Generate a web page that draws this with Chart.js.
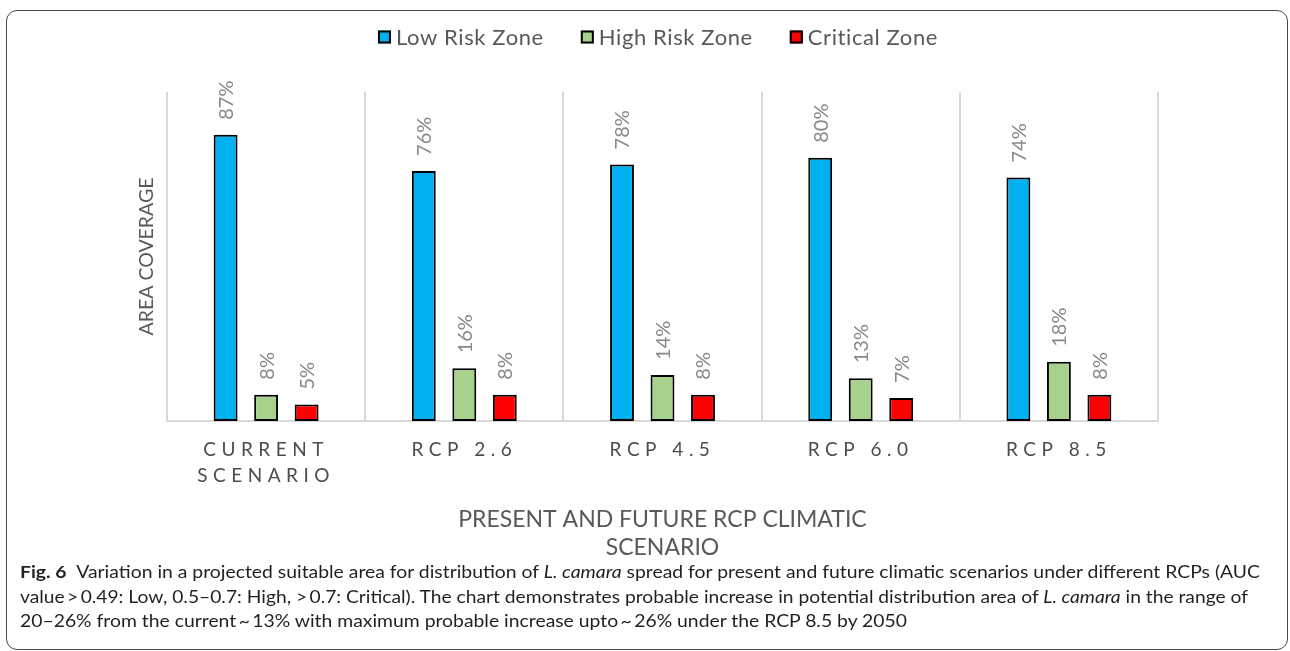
<!DOCTYPE html>
<html>
<head>
<meta charset="utf-8">
<script src="https://cdn.jsdelivr.net/npm/chart.js@4.4.1/dist/chart.umd.min.js"></script>
<style>
  html, body { margin: 0; padding: 0; background: #fff; }
  body { width: 1290px; height: 651px; position: relative; overflow: hidden; }
  #frame {
    position: absolute; left: 6px; top: 10px; width: 1282px; height: 640px;
    border: 1.5px solid #4a4a4a; border-radius: 11px; box-sizing: border-box;
  }
  #wrap { position: absolute; left: 0; top: 0; width: 1290px; height: 562px; }
  #caption {
    position: absolute; left: 20px; top: 560px;
    font-family: Lato, "Noto Sans", sans-serif; font-size: 17px; color: #231f20;
  }
  .cl { white-space: nowrap; height: 24.5px; line-height: 24.5px; transform-origin: left center; width: max-content; }
</style>
</head>
<body>
<div id="frame"></div>
<div id="wrap"><canvas id="chart" width="1290" height="562"></canvas></div>
<div id="caption">
  <div class="cl" data-w="1240"><b>Fig. 6</b>&ensp;Variation in a projected suitable area for distribution of <i>L. camara</i> spread for present and future climatic scenarios under different RCPs (AUC</div>
  <div class="cl" data-w="1228">value&#8201;&gt;&#8201;0.49: Low, 0.5–0.7: High, &gt;&#8201;0.7: Critical). The chart demonstrates probable increase in potential distribution area of <i>L. camara</i> in the range of</div>
  <div class="cl" data-w="887">20–26% from the current&#8201;~&#8201;13% with maximum probable increase upto&#8201;~&#8201;26% under the RCP 8.5 by 2050</div>
</div>
<script>
// Scenario categories (multi-line labels) and the three risk-zone series (% of area)
const scenarioLabels = [['CURRENT', 'SCENARIO'], ['RCP 2.6'], ['RCP 4.5'], ['RCP 6.0'], ['RCP 8.5']];
const seriesNames = ['Low Risk Zone', 'High Risk Zone', 'Critical Zone'];
const lowRiskZone = [87, 76, 78, 80, 74];
const highRiskZone = [8, 16, 14, 13, 18];
const criticalZone = [5, 8, 8, 7, 8];
const yAxisTitle = 'AREA COVERAGE';
const xAxisTitle = ['PRESENT AND FUTURE RCP CLIMATIC', 'SCENARIO'];

const FONT = 'Lato, "Noto Sans", sans-serif';
const TEXT_GREY = '#595959';

// Stretch each caption line to its column width
document.querySelectorAll('.cl').forEach(el => {
  const target = +el.dataset.w;
  const actual = el.getBoundingClientRect().width;
  el.style.transform = 'scaleX(' + (target / actual) + ')';
});

// Rotated percentage labels above every bar
const valueLabels = {
  id: 'valueLabels',
  afterDatasetsDraw(chart) {
    const ctx = chart.ctx;
    ctx.save();
    ctx.font = '20px ' + FONT;
    ctx.fillStyle = '#888888';
    ctx.textAlign = 'left';
    ctx.textBaseline = 'middle';
    chart.data.datasets.forEach((ds, di) => {
      chart.getDatasetMeta(di).data.forEach((bar, i) => {
        ctx.save();
        ctx.translate(bar.x + 1, bar.y - 15);
        ctx.rotate(-Math.PI / 2);
        ctx.fillText(ds.data[i] + '%', 0, 0);
        ctx.restore();
      });
    });
    ctx.restore();
  }
};

// Letter-spaced category labels under the x axis
const spacedTicks = {
  id: 'spacedTicks',
  afterDraw(chart) {
    const ctx = chart.ctx;
    const xs = chart.scales.x;
    ctx.save();
    ctx.font = '19px ' + FONT;
    ctx.fillStyle = '#4d4d4d';
    ctx.textAlign = 'center';
    ctx.textBaseline = 'middle';
    ctx.letterSpacing = '5.5px';
    chart.data.labels.forEach((lines, i) => {
      const x = xs.getPixelForTick(i);
      lines.forEach((line, j) => {
        ctx.fillText(line, x, chart.chartArea.bottom + 29 + j * 26);
      });
    });
    ctx.restore();
  }
};

// Legend row across the top: framed colour swatch followed by series name
const topLegend = {
  id: 'topLegend',
  afterDraw(chart) {
    const ctx = chart.ctx;
    const box = 13, gapText = 5, gapItem = 37, cy = 37, cx = 658;
    ctx.save();
    ctx.font = '22px ' + FONT;
    ctx.letterSpacing = '0.6px';
    ctx.textBaseline = 'middle';
    ctx.textAlign = 'left';
    const items = chart.data.datasets.map(ds => ({
      text: ds.label, color: ds.backgroundColor, w: ctx.measureText(ds.label).width
    }));
    const total = items.reduce((s, it) => s + box + gapText + it.w, 0) + gapItem * (items.length - 1);
    let x = cx - total / 2;
    items.forEach(it => {
      ctx.fillStyle = it.color;
      ctx.fillRect(x, cy - box / 2, box, box);
      ctx.lineWidth = 2;
      ctx.strokeStyle = '#000';
      ctx.strokeRect(x + 1, cy - box / 2 + 1, box - 2, box - 2);
      ctx.fillStyle = TEXT_GREY;
      ctx.fillText(it.text, x + box + gapText, cy + 1);
      x += box + gapText + it.w + gapItem;
    });
    ctx.restore();
  }
};

function barSet(label, data, color) {
  return {
    label, data,
    backgroundColor: color,
    borderColor: '#000000',
    borderWidth: 2,
    borderSkipped: false,
    categoryPercentage: 0.613,
    barPercentage: 0.59
  };
}

function build() {
  new Chart(document.getElementById('chart'), {
    type: 'bar',
    data: {
      labels: scenarioLabels,
      datasets: [
        barSet(seriesNames[0], lowRiskZone, '#00B0F0'),
        barSet(seriesNames[1], highRiskZone, '#A9D18E'),
        barSet(seriesNames[2], criticalZone, '#FF0000')
      ]
    },
    options: {
      responsive: false,
      animation: false,
      devicePixelRatio: 1,
      layout: { padding: { top: 92, left: 120, right: 132, bottom: 0 } },
      plugins: {
        legend: { display: false },
        tooltip: { enabled: false }
      },
      scales: {
        x: {
          offset: true,
          grid: { offset: true, color: '#d9d9d9', lineWidth: 2, drawTicks: false },
          border: { display: true, color: '#d9d9d9', width: 2 },
          ticks: { display: false },
          title: {
            display: true, text: xAxisTitle, color: TEXT_GREY,
            font: { family: FONT, size: 23, lineHeight: 28 / 23 },
            padding: { top: 0, bottom: 0 }
          },
          afterFit(scale) { scale.height = 141; }
        },
        y: {
          min: 0, max: 100,
          grid: { display: false },
          border: { display: false },
          ticks: { display: false },
          title: {
            display: true, text: yAxisTitle, color: TEXT_GREY,
            font: { family: FONT, size: 19.5, lineHeight: 1.2 },
            padding: { top: 15.3, bottom: 0 }
          },
          afterFit(scale) { scale.width = 47; }
        }
      }
    },
    plugins: [valueLabels, spacedTicks, topLegend]
  });
}

Promise.all([
  document.fonts.load('19px Lato'),
  document.fonts.load('bold 17px Lato'),
  document.fonts.load('italic 17px Lato')
]).then(build, build);
</script>
</body>
</html>
